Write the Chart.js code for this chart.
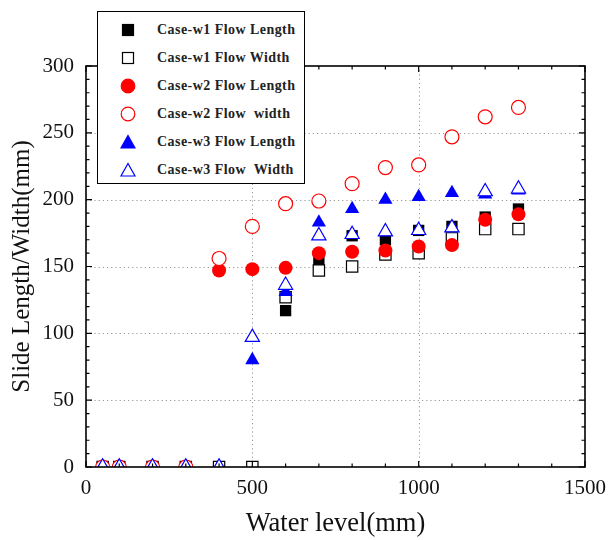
<!DOCTYPE html>
<html lang="en">
<head>
    <meta charset="UTF-8">
    <title>Slide Length/Width vs Water level</title>
    <script src="https://cdn.jsdelivr.net/npm/chart.js"></script>
    <style>
        body {
            margin: 0;
            padding: 0;
            background: white;
        }
        .wrap {
            position: relative;
            width: 611px;
            height: 540px;
        }
        #legend {
            position: absolute;
            left: 97px;
            top: 11px;
            width: 206px;
            height: 171px;
            border: 1.5px solid black;
            background: white;
            font-family: "Liberation Serif", "Times New Roman", serif;
            font-weight: bold;
            font-size: 14px;
            letter-spacing: 0.45px;
            color: #222;
        }
        .row {
            position: absolute;
            left: 0;
            height: 20px;
            line-height: 20px;
            white-space: pre;
        }
        .row svg {
            position: absolute;
            left: 22px;
            top: 2px;
        }
        .row span {
            position: absolute;
            left: 59px;
        }
    </style>
</head>
<body>
    <div class="wrap">
        <canvas id="slideChart" width="611" height="540"></canvas>
        <div id="legend"></div>
    </div>

    <script>
        // water level (mm) and measured slide length / width (mm)
        const waterLevel = [50, 100, 200, 300, 400, 500, 600, 700, 800, 900, 1000, 1100, 1200, 1300];
        const w1Length = [0, 0, 0, 0, 0, null, 117, 155, 173, 170, 177, 180, 187, 193];
        const w1Width  = [0, 0, 0, 0, 0, 0, 127, 147, 150, 159, 160, 171, 178, 178];
        const w2Length = [0, 0, 0, 0, 147, 148, 149, 160, 161, 162, 165, 166, 185, 189];
        const w2Width  = [0, 0, 0, 0, 156, 180, 197, 199, 212, 224, 226, 247, 262, 269];
        const w3Length = [0, 0, 0, 0, 0, 80, 131, 183, 193, 200, 202, 205, 204, 207];
        const w3Width  = [0, 0, 0, 0, 0, 97, 136, 173, 174, 176, 177, 179, 206, 208];

        const seriesNames = [
            "Case-w1 Flow Length",
            "Case-w1 Flow Width",
            "Case-w2 Flow Length",
            "Case-w2 Flow  width",
            "Case-w3 Flow Length",
            "Case-w3 Flow  Width"
        ];
        const xTicks = [0, 500, 1000, 1500];
        const yTicks = [0, 50, 100, 150, 200, 250, 300];

        function toPoints(values) {
            return waterLevel.map((x, i) => ({ x: x, y: values[i] }));
        }

        const styles = [
            { shape: "rect", color: "black", filled: true, radius: 8 },
            { shape: "rect", color: "black", filled: false, radius: 8 },
            { shape: "circle", color: "#ff0000", filled: true, radius: 7 },
            { shape: "circle", color: "#ff0000", filled: false, radius: 7 },
            { shape: "triangle", color: "#0000ff", filled: true, radius: 8.2 },
            { shape: "triangle", color: "#0000ff", filled: false, radius: 8.2 }
        ];
        const allValues = [w1Length, w1Width, w2Length, w2Width, w3Length, w3Width];

        const datasets = allValues.map((vals, i) => ({
            label: seriesNames[i],
            data: toPoints(vals),
            showLine: false,
            pointStyle: styles[i].shape,
            pointRadius: styles[i].radius,
            pointHoverRadius: styles[i].radius,
            pointBackgroundColor: styles[i].filled ? styles[i].color : "white",
            pointBorderColor: styles[i].color,
            pointBorderWidth: styles[i].filled ? 0 : 1.2,
            order: 5 - i,   // later series drawn on top
            clip: 0
        }));

        // dotted grid, frame and inward ticks on all four sides
        const framePlugin = {
            id: "frame",
            beforeDatasetsDraw(chart) {
                const { ctx, chartArea: a, scales } = chart;
                ctx.save();
                ctx.strokeStyle = "#999";
                ctx.lineWidth = 1;
                ctx.setLineDash([1.2, 3]);
                ctx.beginPath();
                [500, 1000].forEach(v => {
                    const px = Math.round(scales.x.getPixelForValue(v)) + 0.5;
                    ctx.moveTo(px, a.top);
                    ctx.lineTo(px, a.bottom);
                });
                [50, 100, 150, 200, 250].forEach(v => {
                    const py = Math.round(scales.y.getPixelForValue(v)) + 0.5;
                    ctx.moveTo(a.left, py);
                    ctx.lineTo(a.right, py);
                });
                ctx.stroke();
                ctx.restore();
            },
            afterDatasetsDraw(chart) {
                const { ctx, chartArea: a, scales } = chart;
                ctx.save();
                ctx.strokeStyle = "black";
                ctx.lineWidth = 1.2;
                ctx.beginPath();
                for (let v = 0; v <= 1500; v += 100) {
                    const px = scales.x.getPixelForValue(v);
                    const len = v % 500 === 0 ? 6 : 3.5;
                    ctx.moveTo(px, a.bottom);
                    ctx.lineTo(px, a.bottom - len);
                    ctx.moveTo(px, a.top);
                    ctx.lineTo(px, a.top + len);
                }
                for (let v = 0; v <= 300; v += 10) {
                    const py = scales.y.getPixelForValue(v);
                    const len = v % 50 === 0 ? 6 : 3.5;
                    ctx.moveTo(a.left, py);
                    ctx.lineTo(a.left + len, py);
                    ctx.moveTo(a.right, py);
                    ctx.lineTo(a.right - len, py);
                }
                ctx.stroke();
                ctx.lineWidth = 1.6;
                ctx.strokeRect(a.left, a.top, a.right - a.left, a.bottom - a.top);
                ctx.restore();
            }
        };

        const axisFont = { family: "Liberation Serif", size: 21 };

        new Chart(document.getElementById("slideChart"), {
            type: "scatter",
            data: { datasets: datasets },
            options: {
                responsive: false,
                animation: false,
                layout: { padding: { left: 0, top: 66, right: 26, bottom: 0 } },
                plugins: {
                    legend: { display: false },
                    tooltip: { enabled: false }
                },
                scales: {
                    x: {
                        type: "linear",
                        min: 0,
                        max: 1500,
                        afterBuildTicks: s => { s.ticks = xTicks.map(v => ({ value: v })); },
                        afterFit: s => { s.height = 73; s.paddingLeft = 0; s.paddingRight = 0; },
                        grid: { display: false, drawTicks: false },
                        border: { display: false },
                        ticks: { color: "#111", font: axisFont, padding: 9, maxRotation: 0, callback: v => String(v) },
                        title: { display: true, text: "Water level(mm)", color: "#111", font: { family: "Liberation Serif", size: 26.5 }, padding: { top: 4, bottom: 0 } }
                    },
                    y: {
                        type: "linear",
                        min: 0,
                        max: 300,
                        afterBuildTicks: s => { s.ticks = yTicks.map(v => ({ value: v })); },
                        afterFit: s => { s.width = 86; s.paddingTop = 0; s.paddingBottom = 0; },
                        grid: { display: false, drawTicks: false },
                        border: { display: false },
                        ticks: { color: "#111", font: axisFont, padding: 12, callback: v => String(v) },
                        title: { display: true, text: "Slide Length/Width(mm)", color: "#111", font: { family: "Liberation Serif", size: 25 }, padding: { top: 7, bottom: 0 } }
                    }
                }
            },
            plugins: [framePlugin]
        });

        // legend box drawn over the plot, like the original figure
        const legend = document.getElementById("legend");
        const rowTops = [8, 36, 64, 92, 120, 148];
        styles.forEach((st, i) => {
            const fill = st.filled ? st.color : "white";
            let shape;
            if (st.shape === "rect") {
                shape = `<rect x="2.5" y="2.5" width="11" height="11" fill="${fill}" stroke="${st.color}" stroke-width="1.2"/>`;
            } else if (st.shape === "circle") {
                shape = `<circle cx="8" cy="8" r="6.8" fill="${fill}" stroke="${st.color}" stroke-width="1.2"/>`;
            } else {
                shape = `<polygon points="8,1.5 15,14 1,14" fill="${fill}" stroke="${st.color}" stroke-width="1.2"/>`;
            }
            const row = document.createElement("div");
            row.className = "row";
            row.style.top = rowTops[i] + "px";
            row.innerHTML = `<svg width="16" height="16">${shape}</svg><span>${seriesNames[i]}</span>`;
            legend.appendChild(row);
        });
    </script>
</body>
</html>
